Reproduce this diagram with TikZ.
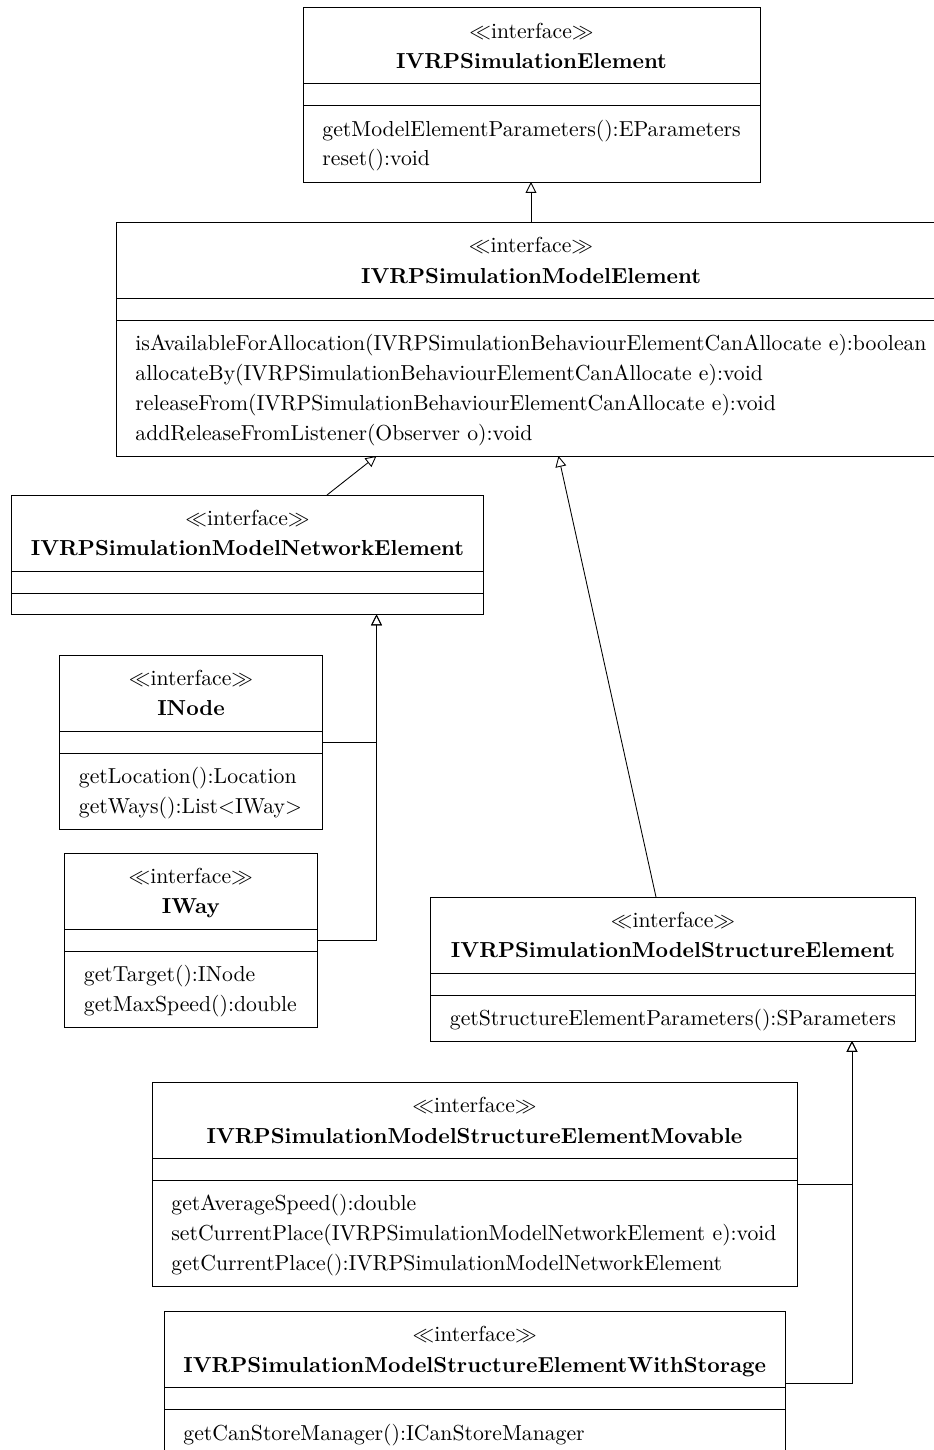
\documentclass[tikz,border=0pt]{standalone}
\usetikzlibrary{arrows.meta,fit}
\begin{document}
\begin{tikzpicture}[x=0.4607pt,y=-0.4607pt,
  cls/.style={draw, rectangle, inner sep=0pt, outer sep=0pt},
  stereo/.style={anchor=base, inner sep=0pt},
  cname/.style={anchor=base, inner sep=0pt, font=\bfseries},
  meth/.style={anchor=base west, inner sep=0pt},
  inh/.style={-{Triangle[open,length=5pt,width=5pt]}},
  line width=0.4pt]
\useasboundingbox (0,0) rectangle (934,1450);

% IVRPSimulationElement
\coordinate (e-nw) at (303,7); \coordinate (e-se) at (760,182);
\node[cls, fit=(e-nw)(e-se)] (e) {};
\draw (e.west |- 0,83) -- (e.east |- 0,83);
\draw (e.west |- 0,105) -- (e.east |- 0,105);
\node[stereo] (e-s) at (531.5,38) {$\ll$interface$\gg$};
\node[cname] (e-n) at (531.5,68.5) {IVRPSimulationElement};
\node[meth] (e-m1) at (322,136) {getModelElementParameters():EParameters};
\node[meth] (e-m2) at (322,165.5) {reset():void};

% IVRPSimulationModelElement
\coordinate (me-nw) at (116,222); \coordinate (me-se) at (946,456);
\node[cls, fit=(me-nw)(me-se)] (me) {};
\draw (me.west |- 0,298) -- (me.east |- 0,298);
\draw (me.west |- 0,320) -- (me.east |- 0,320);
\node[stereo] (me-s) at (531,252) {$\ll$interface$\gg$};
\node[cname] (me-n) at (531,283) {IVRPSimulationModelElement};
\node[meth] (me-m1) at (135,350) {isAvailableForAllocation(IVRPSimulationBehaviourElementCanAllocate e):boolean};
\node[meth] (me-m2) at (135,380) {allocateBy(IVRPSimulationBehaviourElementCanAllocate e):void};
\node[meth] (me-m3) at (135,410) {releaseFrom(IVRPSimulationBehaviourElementCanAllocate e):void};
\node[meth] (me-m4) at (135,440) {addReleaseFromListener(Observer o):void};

% IVRPSimulationModelNetworkElement
\coordinate (ne-nw) at (11.5,495); \coordinate (ne-se) at (483.5,614.5);
\node[cls, fit=(ne-nw)(ne-se)] (ne) {};
\draw (ne.west |- 0,571) -- (ne.east |- 0,571);
\draw (ne.west |- 0,593) -- (ne.east |- 0,593);
\node[stereo] (ne-s) at (247.5,525) {$\ll$interface$\gg$};
\node[cname] (ne-n) at (247.5,555.5) {IVRPSimulationModelNetworkElement};

% INode
\coordinate (in-nw) at (59.5,655); \coordinate (in-se) at (322.5,829);
\node[cls, fit=(in-nw)(in-se)] (in) {};
\draw (in.west |- 0,731) -- (in.east |- 0,731);
\draw (in.west |- 0,753) -- (in.east |- 0,753);
\node[stereo] (in-s) at (191,685) {$\ll$interface$\gg$};
\node[cname] (in-n) at (191,715.5) {INode};
\node[meth] (in-m1) at (78.5,783.5) {getLocation():Location};
\node[meth] (in-m2) at (78.5,813) {getWays():List$<$IWay$>$};

% IWay
\coordinate (iw-nw) at (64.5,853); \coordinate (iw-se) at (317,1027);
\node[cls, fit=(iw-nw)(iw-se)] (iw) {};
\draw (iw.west |- 0,929) -- (iw.east |- 0,929);
\draw (iw.west |- 0,951) -- (iw.east |- 0,951);
\node[stereo] (iw-s) at (190.75,883) {$\ll$interface$\gg$};
\node[cname] (iw-n) at (190.75,913.5) {IWay};
\node[meth] (iw-m1) at (83.5,981.5) {getTarget():INode};
\node[meth] (iw-m2) at (83.5,1011) {getMaxSpeed():double};

% IVRPSimulationModelStructureElement
\coordinate (se-nw) at (430.5,897); \coordinate (se-se) at (915.5,1041);
\node[cls, fit=(se-nw)(se-se)] (se) {};
\draw (se.west |- 0,973) -- (se.east |- 0,973);
\draw (se.west |- 0,995) -- (se.east |- 0,995);
\node[stereo] (se-s) at (673,927) {$\ll$interface$\gg$};
\node[cname] (se-n) at (673,957.5) {IVRPSimulationModelStructureElement};
\node[meth] (se-m1) at (449.5,1025.5) {getStructureElementParameters():SParameters};

% IVRPSimulationModelStructureElementMovable
\coordinate (mv-nw) at (152,1082.5); \coordinate (mv-se) at (797,1286);
\node[cls, fit=(mv-nw)(mv-se)] (mv) {};
\draw (mv.west |- 0,1158.5) -- (mv.east |- 0,1158.5);
\draw (mv.west |- 0,1180.5) -- (mv.east |- 0,1180.5);
\node[stereo] (mv-s) at (474.5,1112.5) {$\ll$interface$\gg$};
\node[cname] (mv-n) at (474.5,1143) {IVRPSimulationModelStructureElementMovable};
\node[meth] (mv-m1) at (171,1210.5) {getAverageSpeed():double};
\node[meth] (mv-m2) at (171,1240.5) {setCurrentPlace(IVRPSimulationModelNetworkElement e):void};
\node[meth] (mv-m3) at (171,1270.5) {getCurrentPlace():IVRPSimulationModelNetworkElement};

% IVRPSimulationModelStructureElementWithStorage
\coordinate (ws-nw) at (164,1311.5); \coordinate (ws-se) at (785.5,1455);
\node[cls, fit=(ws-nw)(ws-se)] (ws) {};
\draw (ws.west |- 0,1387.5) -- (ws.east |- 0,1387.5);
\draw (ws.west |- 0,1409.5) -- (ws.east |- 0,1409.5);
\node[stereo] (ws-s) at (474.75,1341.5) {$\ll$interface$\gg$};
\node[cname] (ws-n) at (474.75,1372) {IVRPSimulationModelStructureElementWithStorage};
\node[meth] (ws-m1) at (183,1440) {getCanStoreManager():ICanStoreManager};

% generalisations
\draw[inh] (531,0 |- me.north) -- (531,0 |- e.south);
\draw[inh] (327,0 |- ne.north) -- (376.5,0 |- me.south);
\draw[inh] (656,0 |- se.north) -- (558.5,0 |- me.south);
\draw[inh] (in.east) -| (376.5,0 |- ne.south);
\draw[inh] (iw.east) -| (376.5,0 |- ne.south);
\draw[inh] (mv.east) -| (852,0 |- se.south);
\draw[inh] (ws.east) -| (852,0 |- se.south);
\end{tikzpicture}
\end{document}
